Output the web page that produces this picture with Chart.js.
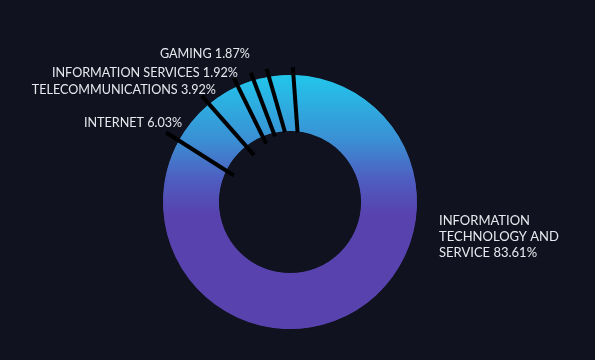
<!DOCTYPE html>
<html>
<head>
<meta charset="utf-8">
<script src="https://cdn.jsdelivr.net/npm/chart.js@4/dist/chart.umd.min.js"></script>
<style>
  html, body { margin: 0; padding: 0; background: #10131F; }
  #wrap { width: 595px; height: 360px; }
</style>
</head>
<body>
<div id="wrap"><canvas id="c" width="595" height="360"></canvas></div>
<script>
const categories = ['INFORMATION TECHNOLOGY AND SERVICE', 'INTERNET', 'TELECOMMUNICATIONS', 'INFORMATION SERVICES', 'GAMING', 'OTHER'];
const shares = [83.61, 6.03, 3.92, 1.92, 1.87, 2.65];
const labelTexts = [['INFORMATION', 'TECHNOLOGY AND', 'SERVICE 83.61%'], ['INTERNET 6.03%'], ['TELECOMMUNICATIONS 3.92%'], ['INFORMATION SERVICES 1.92%'], ['GAMING 1.87%'], []];

const FONT = '13px Lato, "Open Sans", sans-serif';
const FONT_SMALL = '12.6px Lato, "Open Sans", sans-serif';
const DEG = Math.PI / 180;

const leaderPlugin = {
  id: 'leaders',
  afterDatasetsDraw(chart) {
    const ctx = chart.ctx;
    const meta = chart.getDatasetMeta(0);
    // leader style per slice start edge: [angle shift, tilt, inner extension, outer extension]
    const style = [
      [1.2, 2.5, -1, 8],
      [-6.2, -2, -9, 15],
      [-3.8, 1.1, -12, 11],
      [-2.6, 1.1, -8, 9],
      [-1.1, 2, -4, 8],
      [0, 2.9, -1, 8]
    ];
    const tips = [];
    ctx.save();
    ctx.strokeStyle = '#000000';
    ctx.lineWidth = 4;
    ctx.lineCap = 'butt';
    meta.data.forEach((arc, i) => {
      const p = arc.getProps(['x', 'y', 'startAngle', 'innerRadius', 'outerRadius'], true);
      const s = style[i];
      const a = p.startAngle + s[0] * DEG;
      const a0 = a + s[1] * DEG, a1 = a - s[1] * DEG;
      const r0 = p.innerRadius + s[2], r1 = p.outerRadius + s[3];
      const tip = { x: p.x + Math.cos(a1) * r1, y: p.y + Math.sin(a1) * r1 };
      tips.push(tip);
      ctx.beginPath();
      ctx.moveTo(p.x + Math.cos(a0) * r0, p.y + Math.sin(a0) * r0);
      ctx.lineTo(tip.x, tip.y);
      ctx.stroke();
    });
    // labels
    ctx.fillStyle = '#E8E8EF';
    ctx.textBaseline = 'middle';
    const offs = {1: [16, -10], 2: [14, -6], 3: [4, -5], 4: [-1, -19]};
    meta.data.forEach((arc, i) => {
      const p = arc.getProps(['x', 'y', 'outerRadius'], true);
      const lines = labelTexts[i];
      if (!lines.length) return;
      if (i === 0) {
        ctx.font = FONT;
        ctx.textAlign = 'left';
        lines.forEach((t, k) => ctx.fillText(t, p.x + p.outerRadius + 22, p.y + 19 + k * 16));
      } else {
        ctx.font = FONT_SMALL;
        ctx.textAlign = 'right';
        ctx.fillText(lines[0], tips[i].x + offs[i][0], tips[i].y + offs[i][1]);
      }
    });
    ctx.restore();
  }
};

function ringGradient(context) {
  const chart = context.chart;
  const area = chart.chartArea;
  if (!area) return '#5842AE';
  const g = chart.ctx.createLinearGradient(0, area.top, 0, area.top + 140);
  g.addColorStop(0, '#22C6EB');
  g.addColorStop(0.46, '#3A90D4');
  g.addColorStop(0.75, '#4E5DC0');
  g.addColorStop(1, '#5842AE');
  return g;
}

new Chart(document.getElementById('c'), {
  type: 'doughnut',
  data: {
    labels: categories,
    datasets: [{
      data: shares,
      backgroundColor: ringGradient,
      borderColor: ringGradient,
      borderWidth: 2,
      borderAlign: 'inner',
      hoverOffset: 0
    }]
  },
  options: {
    responsive: false,
    animation: false,
    rotation: 2.5,
    cutout: '56%',
    layout: { padding: { left: 163, right: 178, top: 75, bottom: 31 } },
    plugins: { legend: { display: false }, tooltip: { enabled: false } }
  },
  plugins: [leaderPlugin]
});
</script>
</body>
</html>
